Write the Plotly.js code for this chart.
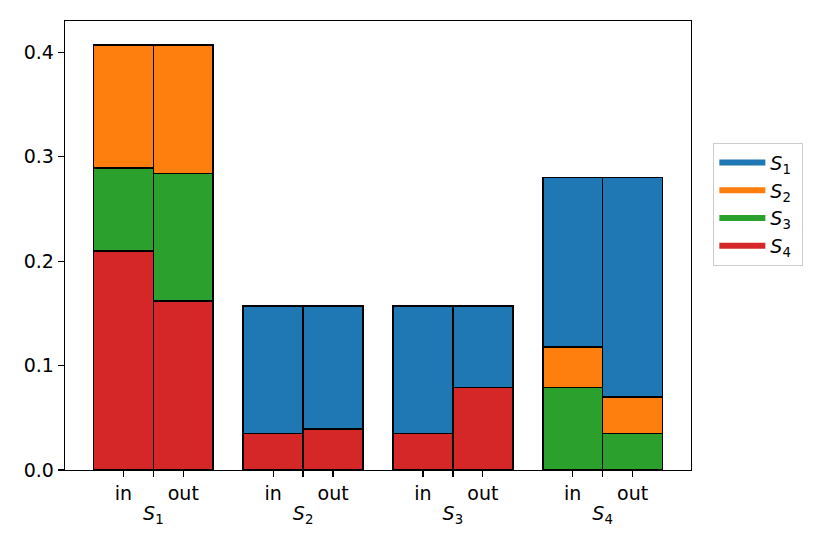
<!DOCTYPE html>
<html>
<head>
<meta charset="utf-8">
<script src="https://cdn.plot.ly/plotly-3.0.1.min.js"></script>
<style>html,body{margin:0;padding:0;background:#fff;}#chart{width:830px;height:554px;}</style>
</head>
<body>
<div id="chart"></div>
<script>
// Groups (states) and directions
var groups = ["S1", "S2", "S3", "S4"];
var groupLabels = ["<i>S</i><sub>1</sub>", "<i>S</i><sub>2</sub>", "<i>S</i><sub>3</sub>", "<i>S</i><sub>4</sub>"];
var directions = ["in", "out"];

// Segment values per bar, order: S1 in, S1 out, S2 in, S2 out, S3 in, S3 out, S4 in, S4 out
var seriesS1 = [null, null, 0.122, 0.118, 0.122, 0.078, 0.162, 0.210];
var seriesS2 = [0.118, 0.123, null, null, null, null, 0.039, 0.035];
var seriesS3 = [0.079, 0.122, null, null, null, null, 0.079, 0.035];
var seriesS4 = [0.210, 0.162, 0.035, 0.039, 0.035, 0.079, null, null];

var seriesNames = ["<i>S</i><sub>1</sub>&nbsp;", "<i>S</i><sub>2</sub>&nbsp;", "<i>S</i><sub>3</sub>&nbsp;", "<i>S</i><sub>4</sub>&nbsp;"];
var colors = ["#1f77b4", "#ff7f0e", "#2ca02c", "#d62728"];

var barW = 0.4;
var xPos = [], tickText = [];
groups.forEach(function (g, gi) {
  directions.forEach(function (d, di) {
    xPos.push(gi + (di === 0 ? -barW / 2 : barW / 2));
    tickText.push(d);
  });
});
var groupPos = groups.map(function (g, gi) { return gi; });

var allSeries = [seriesS1, seriesS2, seriesS3, seriesS4];
var traces = [];
// stack bottom-to-top: S4, S3, S2, S1
[3, 2, 1, 0].forEach(function (k) {
  traces.push({
    type: "bar", x: xPos, y: allSeries[k], width: barW,
    marker: {color: colors[k], line: {color: "#000", width: 1.6}},
    showlegend: false, hoverinfo: "y"
  });
});
// legend handles (lines), on the overlay axis
[0, 1, 2, 3].forEach(function (k) {
  traces.push({
    type: "scatter", mode: "lines", x: [null], y: [null], xaxis: "x2",
    name: seriesNames[k], legendrank: k + 1,
    line: {color: colors[k], width: 6}
  });
});

var font = {family: "DejaVu Sans", size: 19, color: "#000"};
var layout = {
  width: 830, height: 554,
  margin: {l: 65, r: 139, t: 21, b: 84},
  paper_bgcolor: "#fff", plot_bgcolor: "#fff",
  barmode: "stack",
  font: font,
  showlegend: true,
  legend: {
    x: 1.0357, xanchor: "left", y: 0.729, yanchor: "top",
    bordercolor: "#cccccc", borderwidth: 1, bgcolor: "#fff",
    font: font, traceorder: "normal", itemwidth: 46
  },
  xaxis: {
    range: [-0.59, 3.59], tickmode: "array", tickvals: xPos, ticktext: tickText,
    ticks: "outside", ticklen: 6, tickwidth: 1.3, tickcolor: "#000",
    showline: true, linecolor: "#000", linewidth: 1.3, mirror: true,
    showgrid: false, zeroline: false, tickfont: font,
    minor: {tickmode: "array", tickvals: groupPos, ticks: "outside", ticklen: 6, tickwidth: 1.3, tickcolor: "#000", showgrid: false}
  },
  xaxis2: {
    overlaying: "x", anchor: "y", side: "bottom",
    range: [-0.59, 3.59], tickmode: "array", tickvals: groupPos, ticktext: groupLabels,
    ticks: "", showline: false, showgrid: false, zeroline: false,
    tickfont: font, ticklabelstandoff: 30
  },
  yaxis: {
    range: [0, 0.43], tickmode: "array", tickvals: [0, 0.1, 0.2, 0.3, 0.4],
    tickformat: ".1f",
    ticks: "outside", ticklen: 6, tickwidth: 1.3, tickcolor: "#000",
    showline: true, linecolor: "#000", linewidth: 1.3, mirror: true,
    showgrid: false, zeroline: false, tickfont: font
  }
};

Plotly.newPlot("chart", traces, layout, {displayModeBar: false, staticPlot: true});
</script>
</body>
</html>
